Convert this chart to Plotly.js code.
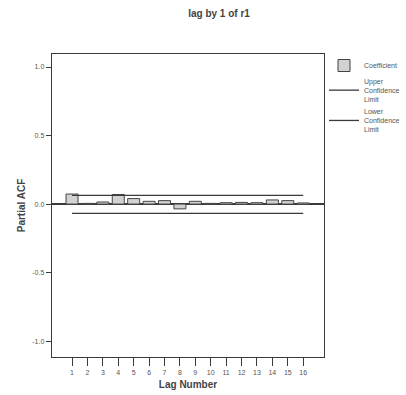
<!DOCTYPE html>
<html>
<head>
<meta charset="utf-8">
<script src="https://cdn.plot.ly/plotly-3.0.1.min.js"></script>
<style>html,body{margin:0;padding:0;background:#fff;}#chart{width:406px;height:395px;}</style>
</head>
<body>
<div id="chart"></div>
<script>
const lags = [1,2,3,4,5,6,7,8,9,10,11,12,13,14,15,16];
const pacf = [0.073,0.005,0.015,0.07,0.04,0.02,0.025,-0.035,0.02,0.005,0.01,0.012,0.01,0.03,0.025,0.008];
const upperLimit = [0.064,0.064,0.064,0.064,0.064,0.064,0.064,0.064,0.064,0.064,0.064,0.064,0.064,0.064,0.064,0.064];
const lowerLimit = [-0.068,-0.068,-0.068,-0.068,-0.068,-0.068,-0.068,-0.068,-0.068,-0.068,-0.068,-0.068,-0.068,-0.068,-0.068,-0.068];
const yTickVals = [1.0,0.5,0.0,-0.5,-1.0];
const yTickText = ["1.0","0.5","0.0","-0.5","-1.0"];

const ink = '#3a3a3a';
const traces = [
  {type:'bar', x:lags, y:pacf, name:'Coefficient', width:0.78,
   marker:{color:'#d2d2d2', line:{color:'#444', width:1}}},
  {type:'scatter', mode:'lines', x:lags, y:upperLimit, name:'Upper<br>Confidence<br>Limit',
   line:{color:ink, width:1.3}},
  {type:'scatter', mode:'lines', x:lags, y:lowerLimit, name:'Lower<br>Confidence<br>Limit',
   line:{color:ink, width:1.3}}
];
const layout = {
  width:406, height:395,
  margin:{l:52, r:82, t:54, b:38},
  paper_bgcolor:'#fff', plot_bgcolor:'#fff',
  font:{family:'Liberation Sans, Arial, sans-serif', size:7, color:'#555'},
  title:{text:'<b>lag by 1 of r1</b>', x:219/406, xanchor:'center', xref:'container', y:0.967, yanchor:'middle',
         font:{size:10, color:'#444'}},
  showlegend:true,
  legend:{xref:'container', yref:'container', x:324/406, xanchor:'left', y:(395-51)/395, yanchor:'top',
          font:{size:7, color:'#555'},
          itemwidth:30, tracegroupgap:4, bgcolor:'rgba(0,0,0,0)', valign:'middle'},
  xaxis:{range:[-0.3,17.35], tickvals:lags, ticktext:lags.map(String), ticks:'outside', ticklen:8,
         tickcolor:ink, tickwidth:1, showline:true, linecolor:ink, linewidth:1.3, mirror:true,
         showgrid:false, zeroline:false, tickfont:{size:7, color:'#555'},
         title:{text:'<b>Lag Number</b>', font:{size:10, color:'#444'}, standoff:6}},
  yaxis:{range:[-1.116,1.095], tickvals:yTickVals, ticktext:yTickText, ticks:'outside', ticklen:5,
         tickcolor:ink, tickwidth:1, showline:true, linecolor:ink, linewidth:1.3, mirror:true,
         showgrid:false, zeroline:true, zerolinecolor:ink, zerolinewidth:1.2,
         tickfont:{size:7, color:'#555'},
         title:{text:'<b>Partial ACF</b>', font:{size:10, color:'#444'}, standoff:4}},
  bargap:0.2
};
Plotly.newPlot('chart', traces, layout, {displayModeBar:false, staticPlot:true});
</script>
</body>
</html>
